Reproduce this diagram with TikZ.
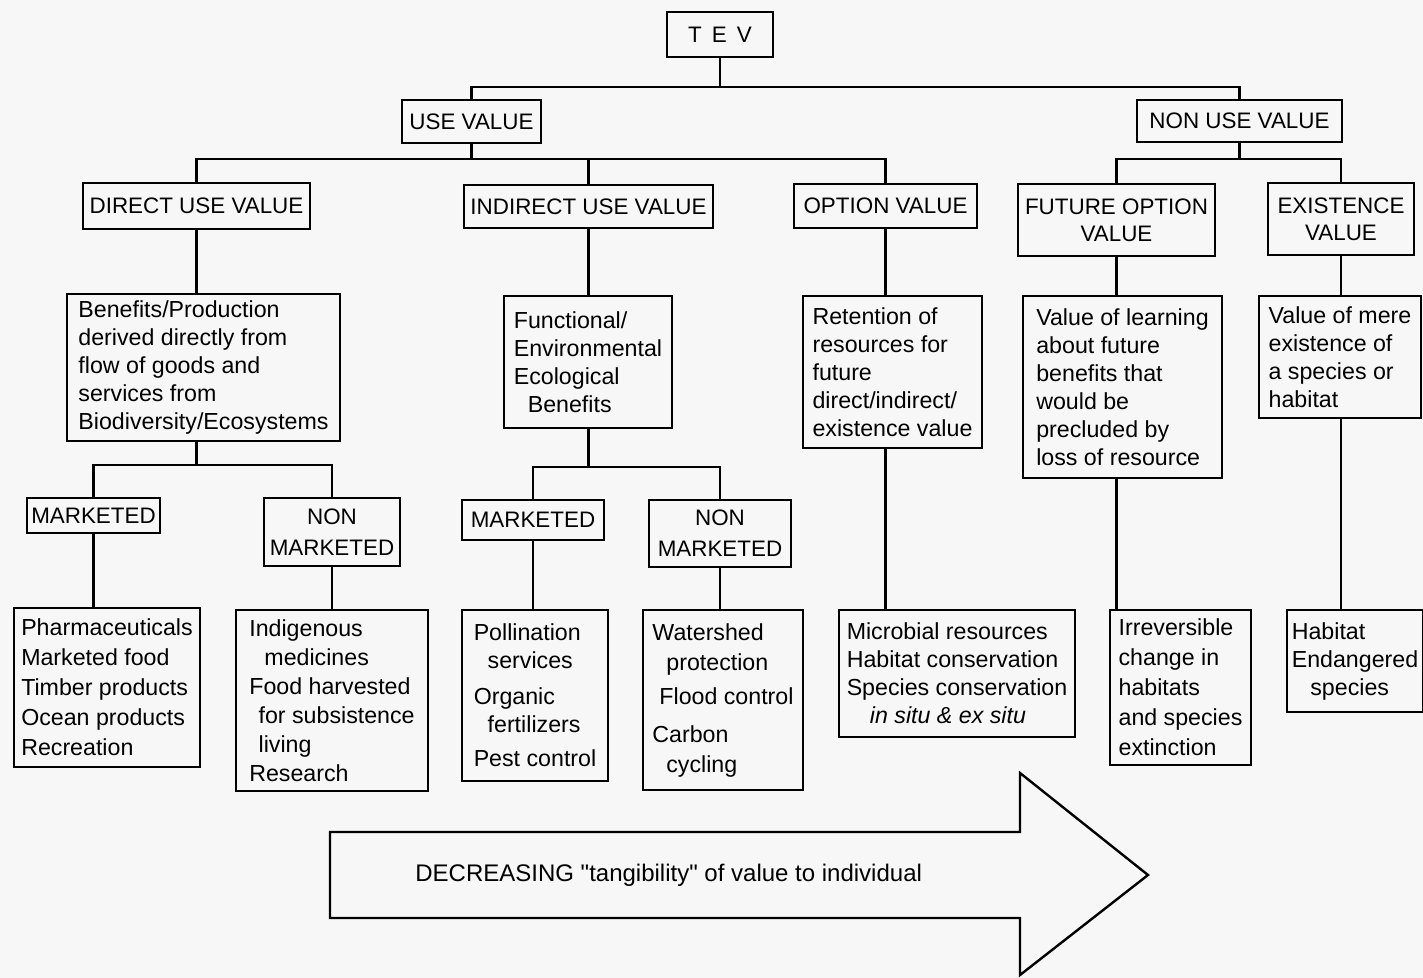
\documentclass[tikz,border=0pt]{standalone}
\usepackage{fontspec}
\setmainfont{Liberation Sans}
\newfontfamily\tangfont{Liberation Sans}
\usetikzlibrary{positioning}

\newcommand{\capsize}{\fontsize{11.2pt}{13.5pt}\selectfont}
\newcommand{\txtsize}{\fontsize{11.6pt}{14pt}\selectfont}

\begin{document}
\begin{tikzpicture}[x=0.5pt, y=-0.5pt, line join=miter,
    every node/.style={inner sep=1pt},
    hdr/.style={draw, line width=1.3pt, align=center, font=\capsize},
    txt/.style={draw, line width=1.3pt, align=left, font=\txtsize},
    link/.style={line width=1.1pt},
    sz/.style 2 args={minimum width=#1*0.5pt, minimum height=#2*0.5pt}]
  \colorlet{paper}{black!3}
  \fill[paper] (0,0) rectangle (1423,978);
  \useasboundingbox (0,0) rectangle (1423,978);

  % value headings
  \node[hdr, sz={106}{45}] (tev) at (720,34.5) {T\hspace{0.45em}E\hspace{0.45em}V};
  \node[hdr, sz={139}{43}] (use) at (471.5,121.5) {USE VALUE};
  \node[hdr, sz={205}{42}] (nonuse) at (1239.5,121) {NON USE VALUE};
  \node[hdr, sz={227}{46}] (direct) at (196.5,206) {DIRECT USE VALUE};
  \node[hdr, sz={249}{43}] (indirect) at (588.5,206.5) {INDIRECT USE VALUE};
  \node[hdr, sz={183}{44}] (option) at (885.5,206) {OPTION VALUE};
  \node[hdr, sz={197}{72}] (future) at (1116.5,220) {FUTURE OPTION\\VALUE};
  \node[hdr, sz={146}{72}] (exist) at (1341,219) {EXISTENCE\\VALUE};

  % descriptions
  \node[txt, sz={273}{147}] (benefits) at (203.5,367.5)
    {Benefits/Production\\derived directly from\\flow of goods and\\services from\\Biodiversity/Ecosystems};
  \node[txt, sz={168}{132}] (functional) at (588,362)
    {Functional/\\Environmental\\Ecological\\\hspace*{0.6em}Benefits};
  \node[txt, sz={179}{152}] (retention) at (892.5,372)
    {Retention of\\resources for\\future\\direct/indirect/\\existence value};
  \node[txt, sz={199}{182}] (learning) at (1122.5,387)
    {Value of learning\\about future\\benefits that\\would be\\precluded by\\loss of resource};
  \node[txt, sz={162}{122}] (mere) at (1340,357)
    {Value of mere\\existence of\\a species or\\habitat};

  % market split
  \node[hdr, sz={133}{35}] (mkt1) at (93.5,515.5) {MARKETED};
  \node[hdr, sz={136}{68}, font={\fontsize{11.2pt}{15.5pt}\selectfont}] (nmkt1) at (332,532) {NON\\MARKETED};
  \node[hdr, sz={142}{40}] (mkt2) at (533,520) {MARKETED};
  \node[hdr, sz={142}{67}, font={\fontsize{11.2pt}{15.5pt}\selectfont}] (nmkt2) at (720,533.5) {NON\\MARKETED};

  % examples
  \node[txt, sz={186}{159}, font={\fontsize{11.6pt}{15pt}\selectfont}] (b1) at (107,687.5)
    {Pharmaceuticals\\Marketed food\\Timber products\\Ocean products\\Recreation};
  \node[txt, sz={192}{181}, font={\fontsize{11.6pt}{14.5pt}\selectfont}] (b2) at (332,700.5)
    {Indigenous\\\hspace*{0.65em}medicines\\Food harvested\\\hspace*{0.4em}for subsistence\\\hspace*{0.4em}living\\Research};
  \node[txt, sz={146}{171}] (b3) at (535,695.5)
    {Pollination\\\hspace*{0.6em}services\\[4pt]Organic\\\hspace*{0.6em}fertilizers\\[3pt]Pest control};
  \node[txt, sz={160}{180}, font={\fontsize{11.6pt}{15pt}\selectfont}] (b4) at (723,700)
    {Watershed\\\hspace*{0.6em}protection\\[2pt]\hspace*{0.3em}Flood control\\[4pt]Carbon\\\hspace*{0.6em}cycling};
  \node[txt, sz={236}{127}] (b5) at (957,673.5)
    {Microbial resources\\Habitat conservation\\Species conservation\\\hspace*{1em}\itshape in situ \& ex situ};
  \node[txt, sz={141}{155}, font={\fontsize{11.6pt}{15pt}\selectfont}] (b6) at (1180.5,687.5)
    {Irreversible\\change in\\habitats\\and species\\extinction};
  \node[txt, sz={136}{102}] (b7) at (1355,661)
    {Habitat\\Endangered\\\hspace*{0.8em}species};

  % tree connectors
  \coordinate (tevj) at (720,87);
  \coordinate (usej) at (471.5,159);
  \coordinate (nonusej) at (1239.5,159);
  \coordinate (dirj) at (196.5,465);
  \coordinate (indj) at (588.5,467);
  \draw[link] (tev) -- (tevj);
  \draw[link] (use.north) |- (tevj) -| (nonuse.north);
  \draw[link] (use) -- (usej);
  \draw[link] (direct.north) |- (usej) -| (option.north);
  \draw[link] (indirect.north) -- (indirect.north |- usej);
  \draw[link] (nonuse) -- (nonusej);
  \draw[link] (future.north) |- (nonusej) -| (exist.north);

  \draw[link] (direct) -- (direct.south |- benefits.north);
  \draw[link] (direct.south |- benefits.south) -- (dirj);
  \draw[link] (mkt1.north) |- (dirj) -| (nmkt1.north);
  \draw[link] (indirect) -- (indirect.south |- functional.north);
  \draw[link] (indirect.south |- functional.south) -- (indj);
  \draw[link] (mkt2.north) |- (indj) -| (nmkt2.north);

  \draw[link] (mkt1) -- (mkt1.south |- b1.north);
  \draw[link] (nmkt1) -- (nmkt1.south |- b2.north);
  \draw[link] (mkt2) -- (mkt2.south |- b3.north);
  \draw[link] (nmkt2) -- (nmkt2.south |- b4.north);
  \draw[link] (option) -- (option.south |- retention.north);
  \draw[link] (option.south |- retention.south) -- (option.south |- b5.north);
  \draw[link] (future) -- (future.south |- learning.north);
  \draw[link] (future.south |- learning.south) -- (future.south |- b6.north);
  \draw[link] (exist) -- (exist.south |- mere.north);
  \draw[link] (exist.south |- mere.south) -- (exist.south |- b7.north);

  % big arrow
  \draw[line width=1.2pt, fill=paper] (330,832) -- (1020,832) -- (1020,773) -- (1148,875)
    -- (1020,975) -- (1020,918) -- (330,918) -- cycle;
  \node[anchor=west, font=\tangfont\fontsize{12pt}{14pt}\selectfont] (tang) at (413,875)
    {DECREASING "tangibility" of value to individual};
\end{tikzpicture}
\end{document}
